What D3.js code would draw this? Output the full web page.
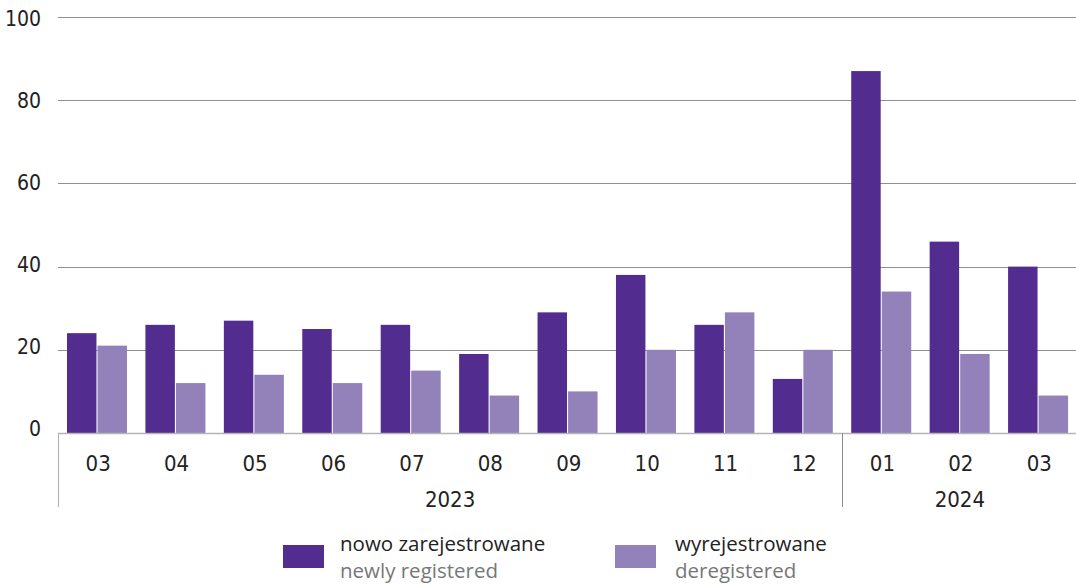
<!DOCTYPE html>
<html>
<head>
<meta charset="utf-8">
<script src="https://cdn.jsdelivr.net/npm/d3@7"></script>
<style>
  html, body { margin: 0; padding: 0; background: #fff; }
  svg { display: block; }
  .num { font-family: "Liberation Sans Narrow", "DejaVu Sans Condensed", sans-serif; fill: #222; }
  .leg { font-family: "Open Sans", "Noto Sans", sans-serif; }
</style>
</head>
<body>
<svg id="chart" width="1076" height="586"></svg>
<script>
// ---- data ----
const months = ["03","04","05","06","07","08","09","10","11","12","01","02","03"];
const years = ["2023","2023","2023","2023","2023","2023","2023","2023","2023","2023","2024","2024","2024"];
const newlyRegistered = [24, 26, 27, 25, 26, 19, 29, 38, 26, 13, 87, 46, 40];
const deregistered = [21, 12, 14, 12, 15, 9, 10, 20, 29, 20, 34, 19, 9];
const yTicks = [0, 20, 40, 60, 80, 100];
const seriesNames = ["newly", "dereg"];
const legendPl = ["nowo zarejestrowane", "wyrejestrowane"];
const legendEn = ["newly registered", "deregistered"];
const colors = ["#522d8f", "#9381ba"];

// ---- layout ----
const svg = d3.select("#chart");
const plotLeft = 58, plotRight = 1077.5, plotTop = 17, plotBottom = 433;
const idx = months.map((m, i) => i);

const x0 = d3.scaleBand().domain(idx).range([plotLeft, plotRight]).padding(0);
const x1 = d3.scaleBand().domain(seriesNames).range([9, 69]).paddingInner(0.035);
const y = d3.scaleLinear().domain([0, 100]).range([plotBottom, plotTop]);
const yLab = d3.scaleLinear().domain([0, 100]).range([436, 26]);

// gridlines
svg.append("g").selectAll("line").data(yTicks.filter(d => d > 0)).join("line")
  .attr("x1", plotLeft).attr("x2", 1076)
  .attr("y1", d => Math.round(y(d)) + 0.5).attr("y2", d => Math.round(y(d)) + 0.5)
  .attr("stroke", "#8f8f8f").attr("stroke-width", 1);

// y labels
svg.append("g").selectAll("text").data(yTicks).join("text")
  .attr("class", "num")
  .attr("x", 41).attr("y", d => yLab(d))
  .attr("text-anchor", "end")
  .attr("font-size", 21)
  .text(d => d);

// bars
const data = idx.map(i => ({ i, vals: [newlyRegistered[i], deregistered[i]] }));
const groups = svg.append("g").selectAll("g").data(data).join("g")
  .attr("transform", d => `translate(${x0(d.i)},0)`);
groups.selectAll("rect").data(d => d.vals.map((v, k) => ({ k, v }))).join("rect")
  .attr("x", d => x1(seriesNames[d.k]))
  .attr("width", x1.bandwidth())
  .attr("y", d => y(d.v))
  .attr("height", d => y(0) - y(d.v))
  .attr("fill", d => colors[d.k]);

// baseline axis
svg.append("line").attr("x1", plotLeft).attr("x2", 1076)
  .attr("y1", plotBottom + 0.5).attr("y2", plotBottom + 0.5)
  .attr("stroke", "#b5b5b5").attr("stroke-width", 1.5);

// month labels
svg.append("g").selectAll("text").data(idx).join("text")
  .attr("class", "num")
  .attr("x", i => x0(i) + x0.bandwidth() / 2 + 1)
  .attr("y", 470.5)
  .attr("text-anchor", "middle")
  .attr("font-size", 22)
  .text(i => months[i]);

// year groups
const yearGroups = d3.groups(idx, i => years[i]).map(([yr, arr]) => ({
  yr, start: x0(arr[0]), end: x0(arr[arr.length - 1]) + x0.bandwidth()
}));
const sepX = yearGroups.map(g => g.start);
svg.append("g").selectAll("line").data(sepX).join("line")
  .attr("x1", d => Math.round(d) + 0.5).attr("x2", d => Math.round(d) + 0.5)
  .attr("y1", plotBottom).attr("y2", 507)
  .attr("stroke", (d, k) => k === 0 ? "#b0b0b0" : "#8a8a8a").attr("stroke-width", 1);
svg.append("g").selectAll("text").data(yearGroups).join("text")
  .attr("class", "num")
  .attr("x", g => (g.start + g.end) / 2)
  .attr("y", 506.5)
  .attr("text-anchor", "middle")
  .attr("font-size", 22)
  .text(g => g.yr);

// legend
const legX = [283, 615];
const leg = svg.append("g").selectAll("g").data(seriesNames).join("g")
  .attr("transform", (d, k) => `translate(${legX[k]},0)`);
leg.append("rect").attr("x", 0).attr("y", 545).attr("width", 41).attr("height", 23)
  .attr("fill", (d, k) => colors[k]);
leg.append("text").attr("class", "leg").attr("x", (d, k) => k === 0 ? 57 : 60).attr("y", 551)
  .attr("font-size", 20.5).attr("fill", "#222").text((d, k) => legendPl[k]);
leg.append("text").attr("class", "leg").attr("x", (d, k) => k === 0 ? 57 : 60).attr("y", 578)
  .attr("font-size", 20.5).attr("fill", "#777").text((d, k) => legendEn[k]);
</script>
</body>
</html>
